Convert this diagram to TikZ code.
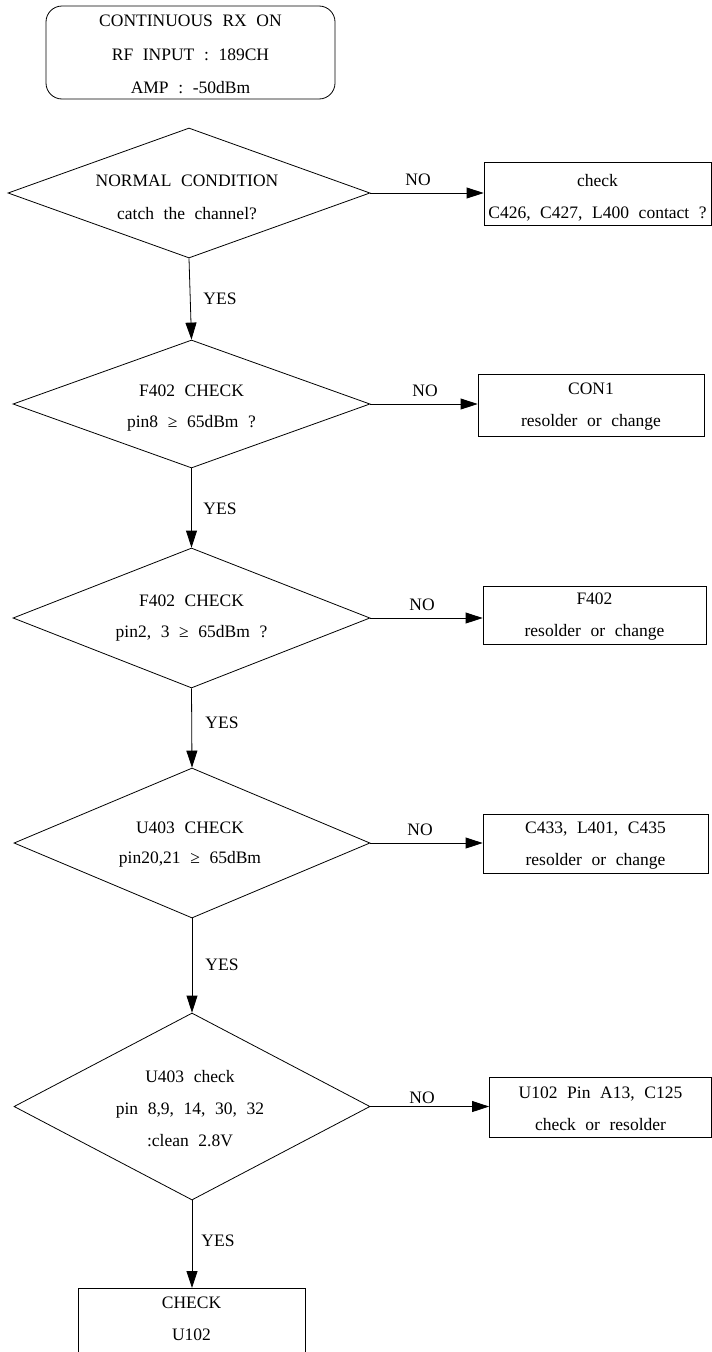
\documentclass[tikz,border=0pt]{standalone}
\usepackage{fontspec}
\setmainfont[WordSpace=2.2]{Liberation Serif}
\usetikzlibrary{shapes.geometric,arrows.meta}
\begin{document}
\begin{tikzpicture}[x=1pt,y=-1pt,
  every node/.style={font=\fontsize{17.5}{32}\selectfont},
  dia/.style={draw,diamond,line width=0.8pt,inner sep=0pt,minimum width=#1},
  box/.style={draw,rectangle,line width=0.8pt,inner sep=0pt},
  txt/.style={align=center,inner sep=0pt},
  lbl/.style={inner sep=0pt},
  con/.style={line width=0.8pt,-{Triangle[length=17pt,width=11pt]}}]
\useasboundingbox (0,0) rectangle (712,1352);
\clip (0,0) rectangle (712,1352);
% start
\node[box,rounded corners=16pt,minimum width=289pt,minimum height=93pt] (start) at (190.5,52.5) {};
\node[txt,font=\fontsize{17.5}{33.5}\selectfont] (starttxt) at (190.5,54.5) {CONTINUOUS RX ON\\RF INPUT : 189CH\\AMP : -50dBm};
% diamonds
\node[dia=362pt,minimum height=130pt] (d1) at (189,193) {};
\node[txt,font=\fontsize{17.5}{33}\selectfont] (d1t) at (187,197) {NORMAL CONDITION\\catch the channel?};
\node[dia=357pt,minimum height=128pt] (d2) at (191.5,404) {};
\node[txt,font=\fontsize{17.5}{31}\selectfont] (d2t) at (191.5,408) {F402 CHECK\\pin8 ≥ 65dBm ?};
\node[dia=357pt,minimum height=140pt] (d3) at (191.5,618) {};
\node[txt,font=\fontsize{17.5}{31}\selectfont] (d3t) at (191.5,618) {F402 CHECK\\pin2, 3 ≥ 65dBm ?};
\node[dia=356pt,minimum height=150pt] (d4) at (192,843) {};
\node[txt,font=\fontsize{17.5}{30}\selectfont] (d4t) at (190,844.5) {U403 CHECK\\pin20,21 ≥ 65dBm};
\node[dia=356pt,minimum height=187pt] (d5) at (192,1106.5) {};
\node[txt] (d5t) at (190,1109) {U403 check\\pin 8,9, 14, 30, 32\\:clean 2.8V};
% boxes
\node[box,minimum width=227pt,minimum height=63pt] (b1) at (597.5,193.5) {};
\node[txt] (b1t) at (597.5,197.5) {check\\C426, C427, L400 contact ?};
\node[box,minimum width=226pt,minimum height=62pt] (b2) at (591,405) {};
\node[txt] (b2t) at (591,407) {CON1\\resolder or change};
\node[box,minimum width=223pt,minimum height=58pt] (b3) at (594.5,615) {};
\node[txt] (b3t) at (594.5,617) {F402\\resolder or change};
\node[box,minimum width=225pt,minimum height=59pt] (b4) at (595.5,843.5) {};
\node[txt] (b4t) at (595.5,846) {C433, L401, C435\\resolder or change};
\node[box,minimum width=222pt,minimum height=60pt] (b5) at (600.5,1107) {};
\node[txt] (b5t) at (600.5,1109) {U102 Pin A13, C125\\check or resolder};
\node[box,minimum width=227pt,minimum height=84pt,anchor=north] (b6) at (191.5,1288) {};
\node[txt] (b6t) at (191.5,1319) {CHECK\\U102};
% connectors
\draw[con] (d1.east) -- (d1.east -| b1.west);
\draw[con] (d2.east) -- (d2.east -| b2.west);
\draw[con] (d3.east) -- (d3.east -| b3.west);
\draw[con] (d4.east) -- (d4.east -| b4.west);
\draw[con] (d5.east) -- (d5.east -| b5.west);
\draw[con] (d1.south) -- (d2.north);
\draw[con] (d2.south) -- (d3.north);
\draw[con] (d3.south) -- (d4.north);
\draw[con] (d4.south) -- (d5.north);
\draw[con] (d5.south) -- (d5.south |- b6.north);
% labels
\node[lbl] (no1) at (418,180) {NO};
\node[lbl] (no2) at (425,391) {NO};
\node[lbl] (no3) at (422,605) {NO};
\node[lbl] (no4) at (420,830) {NO};
\node[lbl] (no5) at (422,1098) {NO};
\node[lbl] (yes1) at (220,299) {YES};
\node[lbl] (yes2) at (220,509) {YES};
\node[lbl] (yes3) at (222,723) {YES};
\node[lbl] (yes4) at (222,965) {YES};
\node[lbl] (yes5) at (218,1241) {YES};
\end{tikzpicture}
\end{document}
